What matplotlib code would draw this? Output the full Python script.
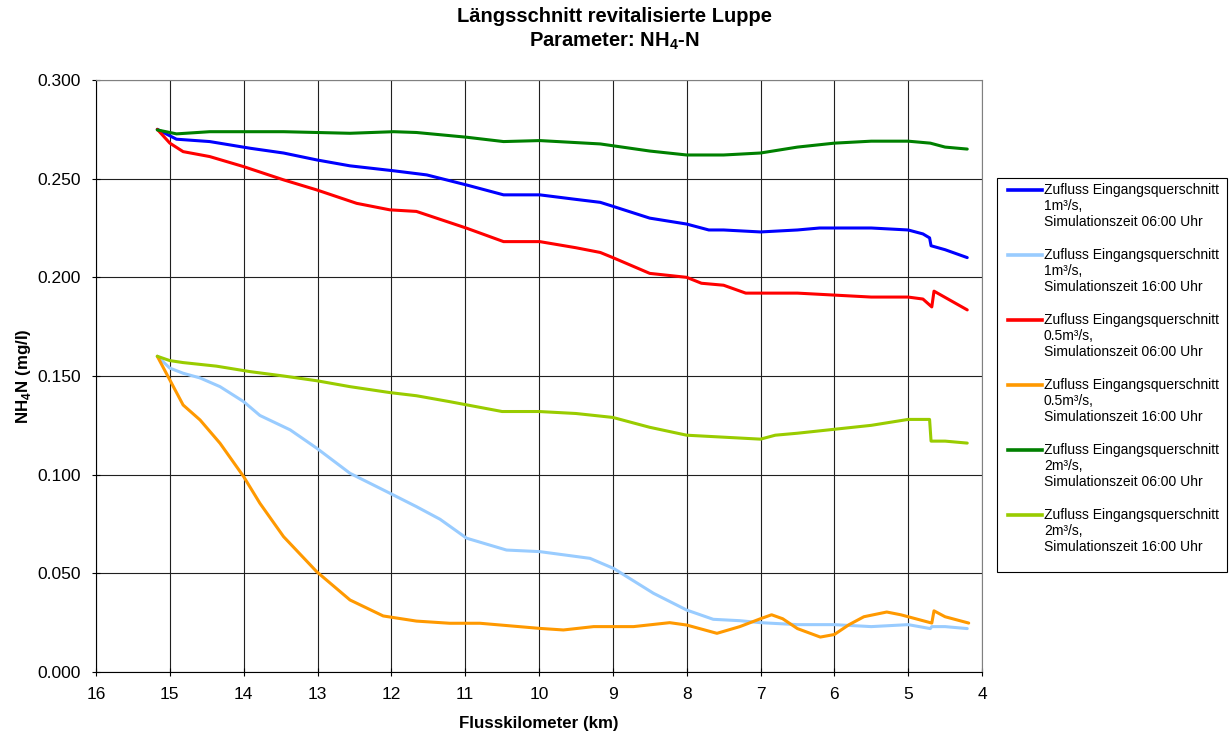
import matplotlib
matplotlib.use("Agg")
import matplotlib.pyplot as plt
from matplotlib.lines import Line2D
from matplotlib.patches import Rectangle

plt.rcParams["font.family"] = ["Liberation Sans", "DejaVu Sans"]
plt.rcParams["mathtext.fontset"] = "custom"
plt.rcParams["mathtext.rm"] = "Liberation Sans"
plt.rcParams["mathtext.bf"] = "Liberation Sans:bold"

# Flusskilometer / NH4-N values
km_blue = [15.17, 14.91, 14.46, 13.91, 13.46, 13.01, 12.56, 11.97, 11.52, 10.98, 10.48, 9.99,
           9.5, 9.17, 9.0, 8.5, 8.0, 7.7, 7.5, 7.0, 6.5, 6.2, 6.0, 5.5, 5.0, 4.8, 4.71, 4.69, 4.5, 4.2]
nh4_blue = [0.275, 0.270, 0.2688, 0.2654, 0.263, 0.2595, 0.2565, 0.254, 0.2519, 0.2468, 0.2418, 0.2418,
            0.2395, 0.238, 0.236, 0.230, 0.227, 0.224, 0.224, 0.223, 0.224, 0.225, 0.225, 0.225, 0.224, 0.222, 0.220, 0.216, 0.214, 0.210]

km_lblue = [15.17, 15.0, 14.82, 14.59, 14.32, 14.0, 13.78, 13.37, 13.01, 12.56, 12.02, 11.66, 11.34, 10.98,
            10.44, 9.99, 9.31, 8.99, 8.45, 8.0, 7.64, 7.28, 7.0, 6.5, 6.0, 5.5, 5.0, 4.7, 4.68, 4.5, 4.2]
nh4_lblue = [0.160, 0.154, 0.1514, 0.149, 0.1446, 0.137, 0.130, 0.1227, 0.1134, 0.1007, 0.0906, 0.0838, 0.0774, 0.0678,
             0.0618, 0.061, 0.0576, 0.0525, 0.0399, 0.0314, 0.0267, 0.026, 0.025, 0.024, 0.024, 0.023, 0.024, 0.022, 0.023, 0.023, 0.022]

km_red = [15.17, 15.0, 14.82, 14.46, 14.0, 13.46, 13.01, 12.47, 12.02, 11.66, 10.98, 10.48, 9.99, 9.5, 9.17, 9.0,
          8.5, 8.0, 7.8, 7.5, 7.2, 7.0, 6.5, 6.0, 5.5, 5.0, 4.8, 4.68, 4.65, 4.2]
nh4_red = [0.275, 0.268, 0.2637, 0.2612, 0.2561, 0.2494, 0.2443, 0.2375, 0.2342, 0.2334, 0.2249, 0.2181, 0.2181, 0.2150, 0.2126, 0.210,
           0.202, 0.200, 0.197, 0.196, 0.192, 0.192, 0.192, 0.191, 0.190, 0.190, 0.189, 0.185, 0.193, 0.1835]

km_orange = [15.17, 15.0, 14.82, 14.59, 14.32, 14.0, 13.78, 13.46, 13.01, 12.56, 12.11, 11.66, 11.21, 10.80,
             9.99, 9.67, 9.26, 8.72, 8.23, 8.0, 7.59, 7.28, 7.0, 6.85, 6.7, 6.5, 6.19, 6.0, 5.8, 5.6, 5.29, 5.1,
             4.9, 4.68, 4.65, 4.5, 4.18]
nh4_orange = [0.160, 0.148, 0.1353, 0.1277, 0.1159, 0.099, 0.0855, 0.0686, 0.0508, 0.0365, 0.0284, 0.0258, 0.0247, 0.0247,
              0.0221, 0.0213, 0.023, 0.023, 0.025, 0.0238, 0.0196, 0.023, 0.027, 0.029, 0.027, 0.022, 0.0177, 0.019, 0.024, 0.028, 0.0304, 0.029,
              0.027, 0.0248, 0.031, 0.028, 0.0248]

km_green = [15.17, 14.91, 14.46, 13.46, 12.56, 11.97, 11.66, 10.98, 10.48, 9.99, 9.17, 8.5, 8.0,
            7.5, 7.0, 6.5, 6.0, 5.5, 5.0, 4.7, 4.5, 4.2]
nh4_green = [0.2747, 0.2727, 0.2738, 0.2738, 0.273, 0.2738, 0.2734, 0.271, 0.2688, 0.2693, 0.2676, 0.264, 0.262,
             0.262, 0.263, 0.266, 0.268, 0.269, 0.269, 0.268, 0.266, 0.265]

km_lgreen = [15.17, 15.0, 14.82, 14.37, 13.91, 13.46, 13.01, 12.56, 12.02, 11.66, 11.21, 10.5, 10.0, 9.5, 9.0, 8.5, 8.0,
             7.5, 7.0, 6.8, 6.5, 6.0, 5.5, 5.0, 4.71, 4.69, 4.5, 4.2]
nh4_lgreen = [0.160, 0.1578, 0.1568, 0.155, 0.1522, 0.150, 0.1476, 0.1446, 0.1416, 0.140, 0.137, 0.132, 0.132, 0.131, 0.129, 0.124, 0.120,
              0.119, 0.118, 0.120, 0.121, 0.123, 0.125, 0.128, 0.128, 0.117, 0.117, 0.116]

labels = [
    "Zufluss Eingangsquerschnitt\n1m³/s,\nSimulationszeit 06:00 Uhr",
    "Zufluss Eingangsquerschnitt\n1m³/s,\nSimulationszeit 16:00 Uhr",
    "Zufluss Eingangsquerschnitt\n0.5m³/s,\nSimulationszeit 06:00 Uhr",
    "Zufluss Eingangsquerschnitt\n0.5m³/s,\nSimulationszeit 16:00 Uhr",
    "Zufluss Eingangsquerschnitt\n2m³/s,\nSimulationszeit 06:00 Uhr",
    "Zufluss Eingangsquerschnitt\n2m³/s,\nSimulationszeit 16:00 Uhr",
]
colors = ["#0000FF", "#99CCFF", "#FF0000", "#FF9900", "#008000", "#99CC00"]

series = [(km_blue, nh4_blue), (km_lblue, nh4_lblue), (km_red, nh4_red),
          (km_orange, nh4_orange), (km_green, nh4_green), (km_lgreen, nh4_lgreen)]

W, H = 1229, 735
fig = plt.figure(figsize=(W / 100, H / 100), dpi=100)
ax = fig.add_axes([96 / W, 1 - 672 / H, 886 / W, 592 / H])

for (x, y), lab, c in zip(series, labels, colors):
    ax.plot(x, y, color=c, lw=2.2, label=lab, solid_capstyle="round", solid_joinstyle="round")

ax.set_xlim(16, 4)
ax.set_ylim(0, 0.3)
ax.set_xticks(range(16, 3, -1))
yt = [0, 0.05, 0.1, 0.15, 0.2, 0.25, 0.3]
ax.set_yticks(yt)
ax.set_yticklabels([f"{v:.3f}" for v in yt])
ax.grid(True, color="#202020", lw=0.8)
ax.set_axisbelow(True)
ax.tick_params(axis="both", labelsize=12.5, direction="inout", length=6, width=0.8)
ax.tick_params(axis="x", pad=8)
ax.tick_params(axis="y", pad=8)
for side in ["top", "right"]:
    ax.spines[side].set_color("#808080")

ax.set_xlabel("Flusskilometer (km)", fontsize=12.2, fontweight="bold", labelpad=10)
ax.set_ylabel(r"NH$_\mathbf{4}$N (mg/l)", fontsize=12.2, fontweight="bold", labelpad=3)
fig.suptitle("Längsschnitt revitalisierte Luppe\n" + r"Parameter: NH$_\mathbf{4}$-N",
             fontsize=14.5, fontweight="bold", y=0.99, linespacing=1.3)

# legend drawn in figure pixel coordinates
def fx(px):
    return px / W

def fy(py):
    return 1 - py / H

fig.add_artist(Rectangle((fx(997), fy(572)), fx(230), 394 / H, transform=fig.transFigure,
                         facecolor="white", edgecolor="black", lw=0.8))
for i, (lab, c) in enumerate(zip(labels, colors)):
    top = 190 + i * 65
    fig.add_artist(Line2D([fx(1008), fx(1042)], [fy(top), fy(top)], transform=fig.transFigure,
                          color=c, lw=2.6))
    for j, line in enumerate(lab.split("\n")):
        fig.text(fx(1044), fy(top + j * 16), line, fontsize=10, va="center", ha="left")

plt.savefig("out.png", dpi=100)
